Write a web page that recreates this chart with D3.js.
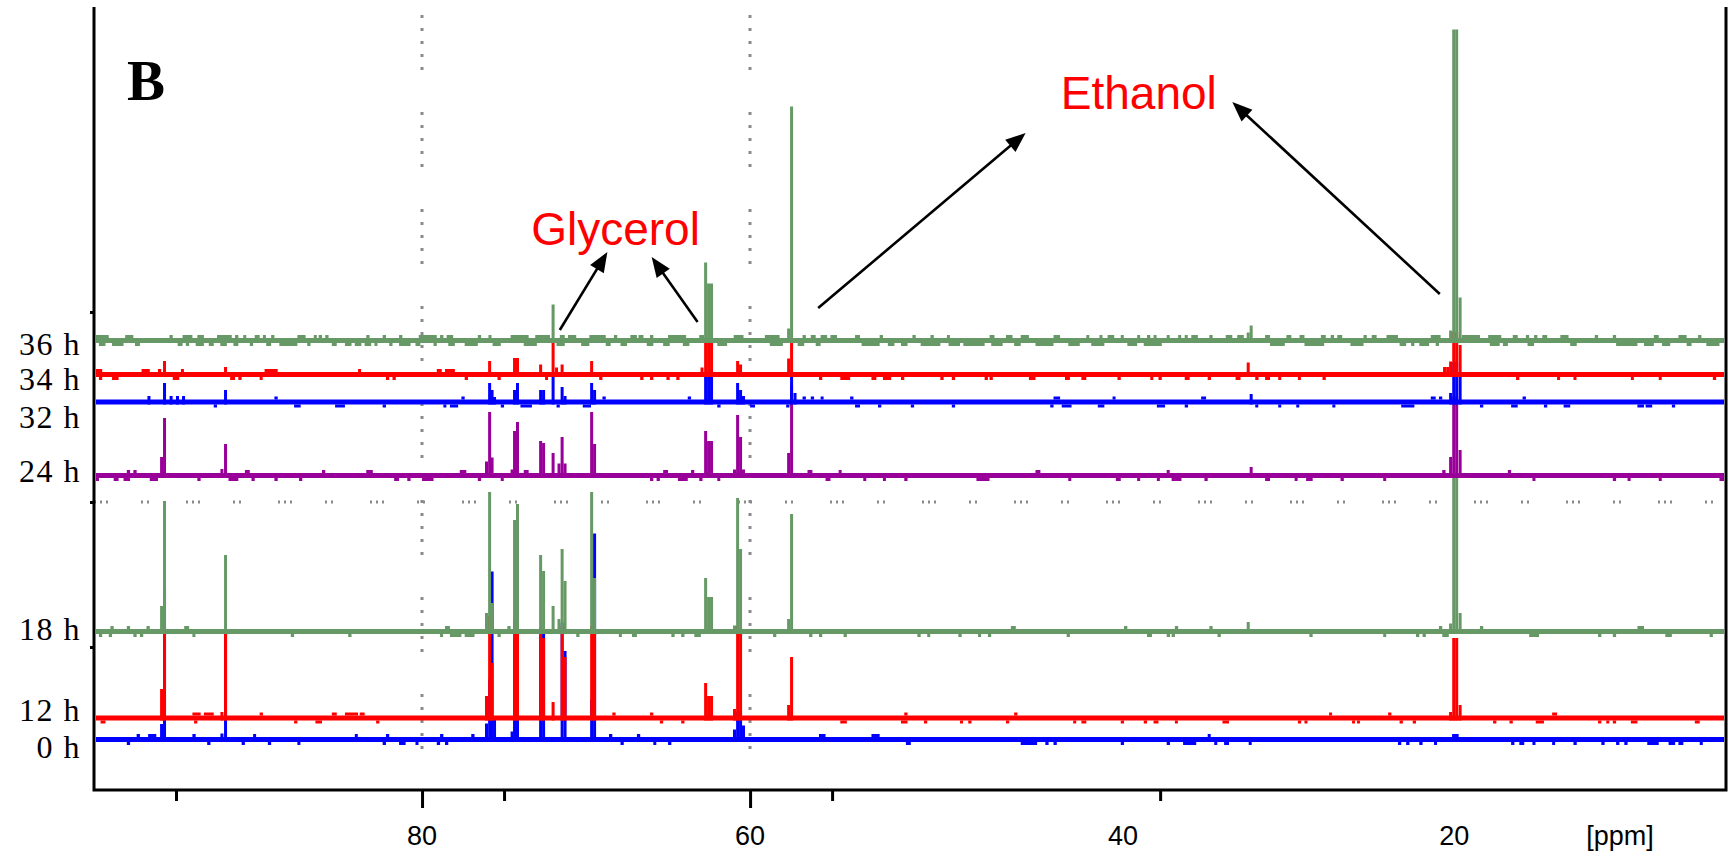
<!DOCTYPE html>
<html>
<head>
<meta charset="utf-8">
<script src="https://cdn.jsdelivr.net/npm/d3@7"></script>
<style>
  html, body { margin: 0; padding: 0; background: #ffffff; }
  svg { display: block; }
</style>
</head>
<body>
<svg id="chart" width="1732" height="853"></svg>
<script>
// ---------------------------------------------------------------
// 13C NMR spectra of the fermentation broth, stacked by sampling time
// ---------------------------------------------------------------
const timePoints   = ["0 h", "12 h", "18 h", "24 h", "32 h", "34 h", "36 h"];
const traceColors  = ["#0000ff", "#ff0000", "#669966", "#990099", "#0000ff", "#ff0000", "#669966"];
// vertical stacking offset of each trace (intensity units)
const stackOffsets = [50.5, 72, 158.5, 314.5, 388, 415.5, 449.5];

// peak columns: [ppm, intensity above the trace baseline]
const peaks0h = [
  [95.88, 15.5], [95.70, 150], [92.20, 6], [91.98, 107],
  [76.07, 16], [75.88, 60], [75.73, 168], [75.58, 21],
  [74.51, 8], [74.36, 100], [74.18, 100], [72.77, 105], [72.59, 105.5],
  [71.46, 117], [71.28, 88.5], [69.66, 40], [69.48, 206],
  [60.95, 10], [60.76, 28], [60.58, 28], [60.40, 14]
];
const peaks12h = [
  [95.88, 29], [95.70, 90], [92.20, 6], [91.98, 84],
  [76.07, 22], [75.88, 102], [75.73, 55], [74.36, 100], [74.18, 100],
  [72.77, 90], [72.59, 80], [72.01, 16], [71.46, 92], [71.28, 61],
  [69.66, 92], [69.48, 86], [62.71, 35], [62.53, 22], [62.35, 22],
  [60.95, 9], [60.76, 92], [60.58, 88], [57.65, 13], [57.47, 61],
  [17.29, 6], [17.10, 80], [16.92, 80], [16.71, 13]
];
const peaks18h = [
  [95.88, 25.5], [95.70, 130.5], [91.98, 76.5],
  [76.07, 18.5], [75.88, 139.5], [75.73, 28.5], [74.36, 111.5], [74.18, 127.5],
  [72.77, 76.5], [72.59, 60.5], [72.01, 25.5], [71.65, 12.5], [71.46, 82.5], [71.28, 50.5],
  [69.66, 139.5], [69.48, 53.5], [62.71, 53.5], [62.53, 34.5], [62.35, 34.5],
  [60.95, 6], [60.76, 133.5], [60.58, 82.5], [57.65, 12.5], [57.47, 117.5],
  [29.63, 9.5], [17.29, 8], [17.10, 155], [16.92, 155], [16.71, 18.5]
];
const peaks24h = [
  [95.88, 18.5], [95.70, 57.5], [92.20, 6.5], [91.98, 31.5],
  [76.07, 14], [75.88, 63.5], [75.73, 18], [74.51, 6], [74.36, 44.5], [74.18, 53.5],
  [72.77, 34.5], [72.59, 32.5], [72.01, 22.5], [71.65, 12], [71.46, 38.5], [71.28, 12],
  [69.66, 63.5], [69.48, 31.5], [62.71, 44.5], [62.53, 34.5], [62.35, 34.5],
  [60.95, 6], [60.76, 60.5], [60.58, 38.5], [60.40, 6], [57.65, 22.5], [57.47, 90],
  [29.45, 8.5], [17.29, 18.5], [17.10, 79], [16.92, 79], [16.71, 25.5]
];
const peaks32h = [
  [96.65, 6], [95.70, 19], [95.30, 6], [94.91, 6], [94.54, 6], [91.98, 12],
  [75.88, 19], [75.73, 12], [75.58, 5], [74.36, 12], [74.18, 19],
  [72.77, 12], [72.59, 12], [72.01, 25], [71.46, 15], [71.28, 6],
  [69.66, 19], [69.48, 12], [62.71, 30], [62.53, 29], [62.35, 29],
  [60.76, 19], [60.58, 12], [60.40, 6], [57.47, 29], [57.26, 9],
  [29.45, 8], [17.29, 9], [17.10, 40], [16.92, 40], [16.71, 25]
];
const peaks34h = [
  [95.70, 13.5], [91.98, 7.5], [75.88, 13.5], [74.36, 16.5], [74.18, 16.5],
  [72.77, 10], [72.01, 32.5], [71.80, 7], [71.46, 10], [69.66, 13.5],
  [62.93, 7], [62.71, 34], [62.53, 34], [62.35, 34], [60.76, 13.5], [60.58, 10],
  [57.65, 16], [57.47, 35.5], [29.63, 12],
  [17.66, 7.5], [17.47, 7.5], [17.29, 13], [17.10, 42.5], [16.92, 42.5], [16.71, 29.5]
];
const peaks36h = [
  [72.01, 36], [62.71, 78], [62.53, 57], [62.35, 57],
  [57.65, 12], [57.47, 234], [29.63, 8], [29.45, 15],
  [17.29, 10], [17.10, 311], [16.92, 311], [16.71, 43]
];

// baseline noise: [ppm from, ppm to] ranges sitting above / below each trace
const noiseUp0h = [[97.4,97.2],[96.7,96.2],[94.0,93.8],[90.3,90.2],[84.1,84.0],[82.2,82.0],[78.9,78.7],[77.0,76.8],[68.6,68.4],[66.9,66.7],[55.8,55.4],[52.6,52.1],[32.1,32.0],[17.2,16.8]];
const noiseDown0h = [[98.0,97.8],[93.1,92.9],[91.0,90.8],[89.4,89.2],[87.6,87.5],[82.4,82.2],[81.4,81.0],[80.4,80.3],[79.1,78.9],[78.6,78.4],[67.9,67.7],[65.9,65.8],[65.0,64.8],[50.5,50.2],[43.5,42.5],[42.0,41.8],[41.5,41.3],[37.4,37.2],[34.6,34.4],[33.6,32.8],[31.7,31.6],[31.1,30.8],[29.6,29.5],[20.5,20.3],[20.0,19.8],[19.2,19.0],[18.3,18.2],[13.6,13.4],[13.1,12.8],[12.3,12.2],[11.1,11.0],[9.8,9.6],[8.1,7.9],[7.2,7.0],[6.7,6.5],[5.3,4.6],[4.0,3.6],[3.4,3.1],[2.1,2.0]];
const noiseUp12h = [[94.0,93.5],[93.3,92.7],[89.9,89.7],[85.5,85.2],[84.7,83.9],[83.8,83.5],[68.4,68.2],[66.1,65.9],[50.6,50.4],[43.9,43.7],[24.7,24.6],[21.1,20.9],[11.1,10.8]];
const noiseDown12h = [[99.6,99.3],[93.9,93.7],[87.8,87.6],[86.5,86.1],[82.8,82.6],[65.5,65.3],[64.2,64.0],[54.5,54.1],[50.8,50.4],[49.4,49.2],[47.2,47.1],[46.7,46.5],[44.4,44.2],[40.3,40.2],[39.8,39.5],[37.4,37.2],[36.0,35.8],[35.4,35.1],[34.1,34.0],[31.2,30.8],[26.6,26.4],[26.2,26.1],[23.3,23.2],[23.0,22.9],[20.4,20.2],[19.6,19.4],[14.7,14.5],[13.7,13.5],[12.1,11.6],[8.3,8.1],[7.8,7.7],[7.4,7.2],[6.3,5.9],[2.4,2.1]];
const noiseUp18h = [[99.0,98.8],[98.0,97.8],[96.8,96.6],[94.5,94.2],[78.6,78.3],[74.8,74.6],[44.1,43.8],[37.2,37.0],[34.1,33.9],[32.0,31.8],[18.0,17.8],[15.5,15.3],[5.9,5.5]];
const noiseDown18h = [[99.7,99.5],[99.1,98.9],[97.6,97.4],[97.2,97.0],[94.0,93.9],[88.0,87.8],[84.5,84.3],[78.9,78.8],[78.3,77.6],[77.4,76.8],[75.4,75.2],[70.6,70.4],[68.0,67.9],[67.2,66.9],[64.8,64.6],[64.2,64.0],[63.4,63.0],[58.6,58.4],[56.4,56.2],[55.8,55.6],[54.3,54.1],[49.8,49.6],[49.2,49.1],[47.3,47.1],[46.1,46.0],[45.5,45.3],[40.7,40.5],[35.8,35.5],[34.6,34.4],[34.3,34.1],[31.5,31.3],[25.9,25.7],[21.4,21.3],[19.4,19.2],[19.0,18.8],[17.8,17.4],[12.5,11.9],[8.3,8.1],[7.4,7.2],[4.2,3.8],[1.5,1.3]];
const noiseUp24h = [[98.0,97.8],[97.6,97.4],[90.8,90.5],[86.1,85.9],[83.4,83.0],[77.7,77.3],[73.8,73.5],[65.3,65.0],[63.6,63.4],[56.5,56.2],[54.6,54.5],[42.6,42.3],[34.6,34.5],[17.8,17.6],[13.8,13.6]];
const noiseDown24h = [[100,99.7],[98.8,98.5],[98.2,97.8],[96.6,96.1],[93.7,93.5],[91.8,91.2],[90.4,90.2],[89.0,88.8],[87.5,87.3],[81.7,81.4],[80.9,80.7],[80.0,79.3],[76.6,76.4],[75.2,75.1],[66.1,65.9],[65.7,65.5],[64.4,63.8],[63.1,62.9],[62.0,61.9],[55.4,55.1],[53.1,53.0],[51.9,51.8],[50.6,50.4],[46.2,45.4],[40.6,40.5],[37.7,37.4],[36.4,36.3],[35.2,35.1],[34.3,33.7],[32.3,32.1],[28.6,28.3],[26.8,26.7],[26.1,25.7],[24.0,23.8],[21.4,21.3],[12.3,12.2],[7.4,7.2],[6.5,6.4],[4.6,4.5],[0.9,0.5]];
const noiseUp32h = [[89.0,88.8],[77.6,77.4],[69.0,68.8],[63.8,63.6],[56.8,56.6],[56.3,56.1],[55.7,55.6],[53.9,53.7],[41.5,41.1],[37.9,37.8],[32.5,32.2],[18.5,18.2],[18.0,17.8],[12.9,12.7]];
const noiseDown32h = [[92.7,92.5],[87.8,87.4],[85.3,84.7],[82.4,82.2],[78.7,78.6],[78.3,77.8],[75.2,75.0],[74.0,73.3],[71.8,71.6],[70.2,69.7],[62.0,61.8],[60.0,59.7],[57.8,57.6],[53.6,53.3],[52.2,52.0],[50.2,50.0],[47.7,47.5],[41.7,41.5],[41.0,40.4],[38.8,38.4],[35.2,34.7],[33.5,33.3],[29.2,29.1],[27.8,27.7],[26.7,26.6],[24.5,24.4],[20.3,19.5],[15.5,15.3],[13.6,13.2],[11.6,11.4],[10.4,10.0],[5.9,5.5],[5.4,5.0],[3.8,3.6]];
const noiseUp34h = [[100,99.5],[97.1,96.6],[96.1,95.9],[94.7,94.6],[89.6,88.8],[83.9,83.8],[79.1,78.8],[78.6,78.0]];
const noiseDown34h = [[99.7,99.5],[98.9,98.5],[95.2,94.8],[91.7,91.4],[91.2,91.0],[89.9,89.8],[82.2,82.0],[81.8,81.6],[77.4,77.2],[75.4,75.2],[72.5,72.4],[69.2,69.0],[66.7,66.5],[66.1,65.9],[65.1,64.9],[64.5,64.3],[55.8,55.6],[54.5,53.9],[52.6,52.3],[51.9,51.4],[50.8,50.6],[48.4,48.2],[47.7,47.5],[45.7,45.5],[45.4,45.2],[43.0,42.6],[40.8,40.5],[39.8,39.5],[37.6,37.4],[35.6,35.5],[35.1,34.9],[33.5,33.2],[32.1,31.9],[30.4,30.1],[29.2,29.0],[28.6,28.3],[27.8,27.7],[26.6,26.5],[25.1,24.9],[13.3,13.1],[10.8,10.7],[9.8,9.7],[6.3,6.2],[4.6,4.5],[1.3,1.1]];
const noiseUp36h = [[100,99.1],[98.1,97.6],[95.4,95.2],[94.6,94.0],[93.7,93.3],[92.5,91.6],[91.4,91.2],[90.9,90.8],[90.2,89.9],[89.7,89.6],[89.2,89.0],[87.6,87.1],[86.6,86.5],[86.3,86.1],[85.9,85.7],[83.4,83.2],[82.4,82.2],[81.4,81.2],[80.2,79.1],[78.9,78.7],[78.5,78.1],[76.6,76.4],[75.95,75.8],[74.6,73.5],[73.1,72.2],[71.6,71.3],[71.1,70.6],[69.8,68.8],[68.3,68.1],[67.3,66.9],[66.8,66.5],[66.1,65.9],[65.0,63.9],[63.1,62.8],[61.0,60.4],[59.1,58.2],[56.8,56.6],[56.3,56.0],[55.7,55.3],[55.1,54.7],[53.6,53.3],[52.1,51.9],[50.1,49.9],[49.0,48.8],[48.0,47.9],[45.4,45.1],[44.4,44.0],[43.5,43.0],[41.5,41.1],[39.5,39.4],[38.7,38.6],[38.2,37.8],[37.4,37.3],[36.4,36.3],[35.8,35.6],[35.4,35.3],[34.6,34.5],[33.9,33.8],[33.5,33.4],[33.1,32.7],[32.0,31.8],[31.0,30.6],[30.3,29.9],[28.6,28.3],[27.3,27.0],[26.5,26.2],[25.2,24.9],[24.6,24.4],[24.2,23.9],[22.6,22.4],[22.1,21.8],[21.2,20.5],[18.5,17.9],[16.6,15.5],[15.0,14.2],[13.5,13.2],[12.7,12.5],[12.2,12.0],[11.7,11.4],[10.6,10.1],[8.5,8.3],[7.4,7.2],[4.9,4.6],[3.4,2.9],[2.2,2.0]];
const noiseDown36h = [[99.7,99.3],[98.9,98.2],[97.5,97.2],[94.9,94.6],[94.4,94.2],[93.8,93.3],[93.0,92.7],[92.3,91.9],[91.5,91.2],[90.5,90.3],[89.5,89.2],[88.7,87.6],[87.0,86.8],[85.5,85.2],[84.7,84.3],[84.1,83.7],[83.5,83.1],[82.9,82.8],[82.0,81.8],[81.4,80.7],[80.4,80.1],[79.3,79.1],[78.4,78.0],[77.4,76.6],[75.7,75.2],[73.8,73.0],[71.8,71.3],[70.3,69.8],[68.8,68.5],[67.9,67.5],[66.3,65.9],[65.3,64.9],[64.1,63.7],[62.0,61.4],[58.8,58.0],[57.1,56.7],[56.0,55.7],[53.2,52.1],[51.6,51.2],[50.8,50.4],[49.6,48.4],[47.9,47.2],[47.0,45.7],[45.3,44.6],[43.9,43.5],[42.6,41.5],[40.6,39.9],[39.2,38.4],[37.0,36.4],[36.0,34.9],[28.3,27.4],[26.2,25.0],[23.4,22.6],[20.4,20.0],[19.7,19.5],[19.2,18.6],[18.2,18.0],[14.9,14.3],[14.1,13.8],[12.6,12.2],[10.0,9.6],[7.2,5.9],[5.5,4.9],[4.4,3.9],[2.9,2.6],[1.7,0.9]];

// axis labelling
const ppmTickLabels = [80, 60, 40, 20];
const ppmMajorTicks = [80, 60];
const ppmMinorTicks = [95, 75, 55, 35];
const ppmGridLines  = [80, 60];
const unitLabel = "[ppm]";
const panelLetter = "B";

// annotations: compound label and arrows (tail -> head) in [ppm, intensity]
const annotations = [
  { text: "Glycerol", at: [68.2, 545] },
  { text: "Ethanol",  at: [36.3, 681] }
];
const arrows = [
  [[71.6, 460], [68.7, 538]],
  [[63.2, 468], [66.0, 533]],
  [[55.85, 482], [43.2, 657]],
  [[17.95, 496], [30.6, 688]]
];

// ---------------------------------------------------------------
const traces = timePoints.map((t, i) => ({
  label: t,
  color: traceColors[i],
  offset: stackOffsets[i],
  peaks: [peaks0h, peaks12h, peaks18h, peaks24h, peaks32h, peaks34h, peaks36h][i],
  up:    [noiseUp0h, noiseUp12h, noiseUp18h, noiseUp24h, noiseUp32h, noiseUp34h, noiseUp36h][i],
  down:  [noiseDown0h, noiseDown12h, noiseDown18h, noiseDown24h, noiseDown32h, noiseDown34h, noiseDown36h][i]
}));

// layout
const W = 1732, H = 853;
const plot = { left: 94, right: 1726, top: 7, bottom: 790 };
const labelLevels = [32, 69, 150, 308, 362, 400, 435];   // text baselines of the trace labels
const gridLevel = 288;                                     // horizontal dotted separator
const axisTickLevels = [478, 288, 143];                    // small marks on the left axis
const tickLabelShift = [0, 0, 45, 48];                     // horizontal nudge of the ppm labels

const x = d3.scaleLinear().domain([100, 0.5]).range([plot.left, plot.right]);
const y = d3.scaleLinear().domain([0, plot.bottom - plot.top]).range([plot.bottom, plot.top]);

const svg = d3.select("#chart");
svg.append("rect").attr("width", W).attr("height", H).attr("fill", "#fff");

// dotted guide lines
const grid = svg.append("g").attr("fill", "none").attr("stroke", "#8a8a8a");
grid.selectAll("line.v").data(ppmGridLines).join("line")
  .attr("x1", d => Math.round(x(d))).attr("x2", d => Math.round(x(d)))
  .attr("y1", plot.top + 8).attr("y2", plot.bottom)
  .attr("stroke-width", 3)
  .attr("stroke-dasharray", "3,10,3,10,3,10,3,10,3,42");
grid.append("line")
  .attr("x1", plot.left).attr("x2", plot.right)
  .attr("y1", y(gridLevel)).attr("y2", y(gridLevel))
  .attr("stroke-width", 3)
  .attr("stroke-dasharray", "2,4,2,4,2,33,2,4,2,37");

// spectra, lowest trace first so later traces lie on top
const half = 2.5;   // half thickness of the baseline stroke
const colW = 3;     // width of one spectral point column
const xLo = plot.left + 2, xHi = plot.right - 2;
const clampX = v => Math.max(xLo, Math.min(xHi, v));

traces.forEach(tr => {
  const g = svg.append("g").attr("fill", tr.color);
  const base = y(tr.offset);
  g.append("rect")
    .attr("x", xLo).attr("width", xHi - xLo)
    .attr("y", base - half).attr("height", half * 2);
  g.selectAll("rect.up").data(tr.up).join("rect").attr("class", "up")
    .attr("x", d => clampX(x(d[0])))
    .attr("width", d => Math.max(colW, clampX(x(d[1])) - clampX(x(d[0]))))
    .attr("y", base - half - 3).attr("height", 3);
  g.selectAll("rect.down").data(tr.down).join("rect").attr("class", "down")
    .attr("x", d => clampX(x(d[0])))
    .attr("width", d => Math.max(colW, clampX(x(d[1])) - clampX(x(d[0]))))
    .attr("y", base + half).attr("height", 3);
  g.selectAll("rect.pk").data(tr.peaks).join("rect").attr("class", "pk")
    .attr("x", d => x(d[0]) - colW / 2).attr("width", colW)
    .attr("y", d => y(tr.offset + d[1]))
    .attr("height", d => base + half - y(tr.offset + d[1]));
});

// frame
const frame = svg.append("g").attr("stroke", "#000").attr("stroke-width", 3).attr("fill", "none");
frame.append("path")
  .attr("d", `M${plot.left},${plot.top}V${plot.bottom}H${plot.right}V${plot.top}`);

// bottom axis ticks
svg.append("g").attr("transform", `translate(0,${plot.bottom})`)
  .call(d3.axisBottom(x).tickValues(ppmMajorTicks).tickSize(18).tickFormat(""))
  .call(g => g.select(".domain").remove())
  .call(g => g.selectAll(".tick line").attr("stroke", "#000").attr("stroke-width", 3));
svg.append("g").attr("transform", `translate(0,${plot.bottom})`)
  .call(d3.axisBottom(x).tickValues(ppmMinorTicks).tickSize(11).tickFormat(""))
  .call(g => g.select(".domain").remove())
  .call(g => g.selectAll(".tick line").attr("stroke", "#000").attr("stroke-width", 3));

// left axis marks
svg.append("g").attr("transform", `translate(${plot.left},0)`)
  .call(d3.axisLeft(y).tickValues(axisTickLevels).tickSize(4).tickFormat(""))
  .call(g => g.select(".domain").remove())
  .call(g => g.selectAll(".tick line").attr("stroke", "#000").attr("stroke-width", 3));

// ppm labels
svg.append("g")
  .attr("font-family", "'Liberation Sans', Arial, sans-serif")
  .attr("font-size", 27).attr("fill", "#000").attr("text-anchor", "middle")
  .selectAll("text").data(ppmTickLabels).join("text")
  .attr("x", (d, i) => x(d) + tickLabelShift[i]).attr("y", 845).text(d => d);
svg.append("text")
  .attr("font-family", "'Liberation Sans', Arial, sans-serif")
  .attr("font-size", 27).attr("fill", "#000").attr("text-anchor", "middle")
  .attr("x", 1620).attr("y", 845).text(unitLabel);

// trace labels
svg.append("g")
  .attr("font-family", "'Liberation Serif', 'Times New Roman', serif")
  .attr("font-size", 32).attr("letter-spacing", 1.5).attr("fill", "#000").attr("text-anchor", "end")
  .selectAll("text").data(traces).join("text")
  .attr("x", 81).attr("y", (d, i) => y(labelLevels[i])).text(d => d.label);

// panel letter
svg.append("text")
  .attr("font-family", "'Liberation Serif', 'Times New Roman', serif")
  .attr("font-size", 57).attr("font-weight", "bold")
  .attr("x", 127).attr("y", 100).text(panelLetter);

// arrows
const arrowG = svg.append("g");
arrows.forEach(([t, h]) => {
  const x1 = x(t[0]), y1 = y(t[1]), x2 = x(h[0]), y2 = y(h[1]);
  const dx = x2 - x1, dy = y2 - y1, len = Math.hypot(dx, dy);
  const ux = dx / len, uy = dy / len, L = 20, hw = 8;
  const bx = x2 - ux * L, by = y2 - uy * L;
  arrowG.append("line").attr("x1", x1).attr("y1", y1).attr("x2", bx + ux * 2).attr("y2", by + uy * 2)
    .attr("stroke", "#000").attr("stroke-width", 2.6);
  arrowG.append("path")
    .attr("d", `M${x2},${y2}L${bx - uy * hw},${by + ux * hw}L${bx + uy * hw},${by - ux * hw}Z`)
    .attr("fill", "#000");
});

// compound labels
svg.append("g")
  .attr("font-family", "'Liberation Sans', Arial, sans-serif")
  .attr("font-size", 46).attr("fill", "#ff0000").attr("text-anchor", "middle")
  .selectAll("text").data(annotations).join("text")
  .attr("x", d => x(d.at[0])).attr("y", d => y(d.at[1])).text(d => d.text);
</script>
</body>
</html>
